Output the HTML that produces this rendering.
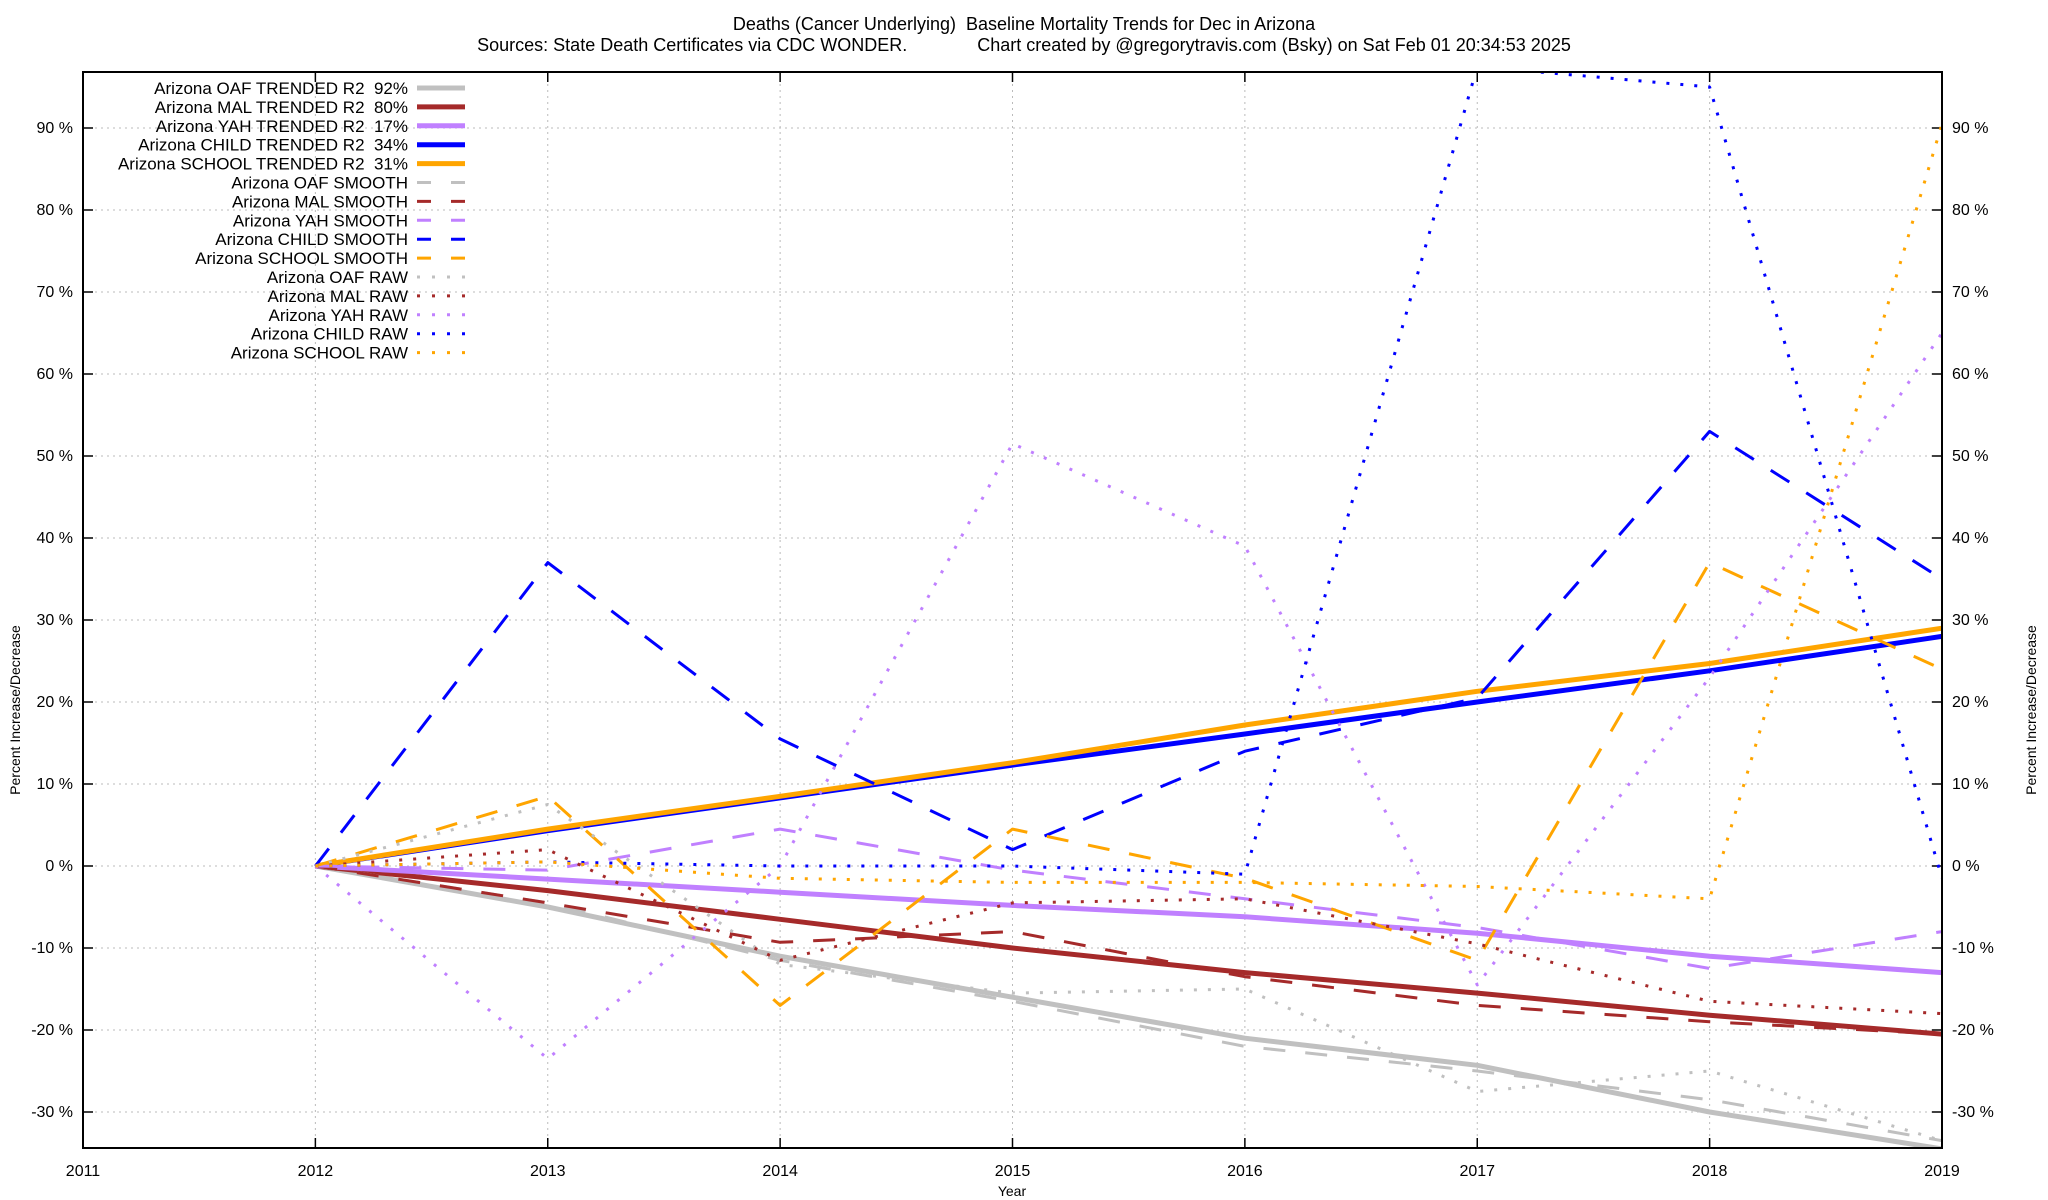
<!DOCTYPE html>
<html><head><meta charset="utf-8"><style>
html,body{margin:0;padding:0;background:#fff}
svg{display:block;font-family:"Liberation Sans",Arial,sans-serif}
</style></head><body>
<svg id="chart" width="2048" height="1200" viewBox="0 0 2048 1200">
<text x="1024" y="30" text-anchor="middle" font-size="18" xml:space="preserve">Deaths (Cancer Underlying)  Baseline Mortality Trends for Dec in Arizona</text>
<text x="1024" y="51" text-anchor="middle" font-size="18" xml:space="preserve">Sources: State Death Certificates via CDC WONDER.              Chart created by @gregorytravis.com (Bsky) on Sat Feb 01 20:34:53 2025</text>
<defs><clipPath id="plotclip"><rect x="83" y="72" width="1859" height="1076"/></clipPath></defs>
<g id="grid"></g>
<g id="axes"></g>
<g id="series" clip-path="url(#plotclip)"></g>
<g id="legend"></g>
<rect x="83" y="72" width="1859" height="1076" fill="none" stroke="#000" stroke-width="2"/>
<text x="0" y="0" transform="translate(20,710) rotate(-90)" text-anchor="middle" font-size="14">Percent Increase/Decrease</text>
<text x="0" y="0" transform="translate(2036,710) rotate(-90)" text-anchor="middle" font-size="14">Percent Increase/Decrease</text>
<text x="1012" y="1196" text-anchor="middle" font-size="14">Year</text>
</svg>
<script>
const years = [2012,2013,2014,2015,2016,2017,2018,2019];
const xTicks = [2011,2012,2013,2014,2015,2016,2017,2018,2019];
const yTicks = [-30,-20,-10,0,10,20,30,40,50,60,70,80,90];
const oafTrend = [0,-5,-11,-16,-21,-24.3,-30,-34.5];
const malTrend = [0,-3,-6.5,-10,-13,-15.5,-18.2,-20.5];
const yahTrend = [0,-1.6,-3.2,-4.8,-6.2,-8.2,-11,-13];
const childTrend = [0,4.3,8.3,12.3,16.1,20,23.8,28];
const schoolTrend = [0,4.5,8.5,12.6,17.2,21.3,24.7,29];
const oafSmooth = [0,-4.5,-11.5,-16.5,-22,-25,-28.5,-33.5];
const malSmooth = [0,-4.5,-9.3,-8,-13.5,-17,-19,-20.5];
const yahSmooth = [0,-0.5,4.5,-0.5,-4,-7.5,-12.5,-8];
const childSmooth = [0,37,15.5,2,14,20.5,53,35];
const schoolSmooth = [0,8.5,-17,4.5,-1.5,-11.5,37,24];
const oafRaw = [0,7.5,-12,-15.5,-15,-27.5,-25,-33.5];
const malRaw = [0,2,-11.5,-4.5,-4,-9.5,-16.5,-18];
const yahRaw = [0,-23.5,0,51.5,39,-14.5,23,65];
const childRaw = [0,0.5,0,0,-1,97.5,95,-1.5];
const schoolRaw = [0,0.5,-1.5,-2,-2,-2.5,-4,90.5];
const legendLabels = ["Arizona OAF TRENDED R2  92%","Arizona MAL TRENDED R2  80%","Arizona YAH TRENDED R2  17%","Arizona CHILD TRENDED R2  34%","Arizona SCHOOL TRENDED R2  31%","Arizona OAF SMOOTH","Arizona MAL SMOOTH","Arizona YAH SMOOTH","Arizona CHILD SMOOTH","Arizona SCHOOL SMOOTH","Arizona OAF RAW","Arizona MAL RAW","Arizona YAH RAW","Arizona CHILD RAW","Arizona SCHOOL RAW"];

const NS="http://www.w3.org/2000/svg";
const X0=83,X1=1942,Y0=866,PX10=82;
function xs(y){return X0+(y-2011)*(X1-X0)/8;}
function ys(v){return Y0-v*PX10/10;}
function mk(tag,attrs,parent){const e=document.createElementNS(NS,tag);for(const k in attrs)e.setAttribute(k,attrs[k]);parent.appendChild(e);return e;}
const grid=document.getElementById('grid'),axes=document.getElementById('axes'),ser=document.getElementById('series'),leg=document.getElementById('legend');
yTicks.forEach(t=>{
  const y=ys(t);
  const g=mk('line',{x1:X0,x2:X1,y1:y,y2:y,stroke:'#bbb','stroke-width':1,'stroke-dasharray':'2,4'},grid);
  
  
  const l=mk('line',{x1:X0,x2:X0+10,y1:y,y2:y,stroke:'#000','stroke-width':1.5},axes);
  
  
  const r=mk('line',{x1:X1-10,x2:X1,y1:y,y2:y,stroke:'#000','stroke-width':1.5},axes);
  
  
  const tl=mk('text',{x:X0-10,y:y+5,'text-anchor':'end','font-size':16},axes);
  tl.textContent=t+' %';
  
  
  const tr=mk('text',{x:X1+10,y:y+5,'text-anchor':'start','font-size':16},axes);
  tr.textContent=t+' %';
  
  
});
xTicks.forEach(t=>{
  const x=xs(t);
  const g=mk('line',{x1:x,x2:x,y1:72,y2:1148,stroke:'#bbb','stroke-width':1,'stroke-dasharray':'2,4'},grid);
  
  
  const l=mk('line',{x1:x,x2:x,y1:1138,y2:1148,stroke:'#000','stroke-width':1.5},axes);
  
  
  const l2=mk('line',{x1:x,x2:x,y1:72,y2:82,stroke:'#000','stroke-width':1.5},axes);
  
  
  const tl=mk('text',{x:x,y:1176,'text-anchor':'middle','font-size':16},axes);
  tl.textContent=t;
  
  
});
const C={oaf:'#c0c0c0',mal:'#a52a2a',yah:'#c080ff',child:'#0000ff',school:'#ffa500'};
const S={trend:{w:5,d:null},smooth:{w:3,d:'22,20'},raw:{w:3,d:'3,11'}};
const series=[
 [oafTrend,C.oaf,'trend','oaf-trended-line'],[malTrend,C.mal,'trend','mal-trended-line'],[yahTrend,C.yah,'trend','yah-trended-line'],[childTrend,C.child,'trend','child-trended-line'],[schoolTrend,C.school,'trend','school-trended-line'],
 [oafSmooth,C.oaf,'smooth','oaf-smooth-line'],[malSmooth,C.mal,'smooth','mal-smooth-line'],[yahSmooth,C.yah,'smooth','yah-smooth-line'],[childSmooth,C.child,'smooth','child-smooth-line'],[schoolSmooth,C.school,'smooth','school-smooth-line'],
 [oafRaw,C.oaf,'raw','oaf-raw-line'],[malRaw,C.mal,'raw','mal-raw-line'],[yahRaw,C.yah,'raw','yah-raw-line'],[childRaw,C.child,'raw','child-raw-line'],[schoolRaw,C.school,'raw','school-raw-line']
];
series.forEach((s,i)=>{
  const [vals,col,kind,name]=s;
  const pts=vals.map((v,j)=>xs(years[j]).toFixed(1)+','+ys(v).toFixed(1)).join(' ');
  const a={points:pts,fill:'none',stroke:col,'stroke-width':S[kind].w,'stroke-linejoin':'round'};
  if(S[kind].d)a['stroke-dasharray']=S[kind].d;
  const p=mk('polyline',a,ser);
  
  
  const ly=88+i*18.9;
  const t=mk('text',{x:408,y:ly+6,'text-anchor':'end','font-size':17},leg);
  t.setAttributeNS('http://www.w3.org/XML/1998/namespace','xml:space','preserve');
  t.style.whiteSpace='pre';
  t.textContent=legendLabels[i];
  
  
  const la={x1:417,x2:465,y1:ly,y2:ly,stroke:col,'stroke-width':S[kind].w};
  if(kind==='smooth')la['stroke-dasharray']='14,20';
  if(kind==='raw')la['stroke-dasharray']='3,12';
  const ln=mk('line',la,leg);
  
  
});
</script>
</body></html>
